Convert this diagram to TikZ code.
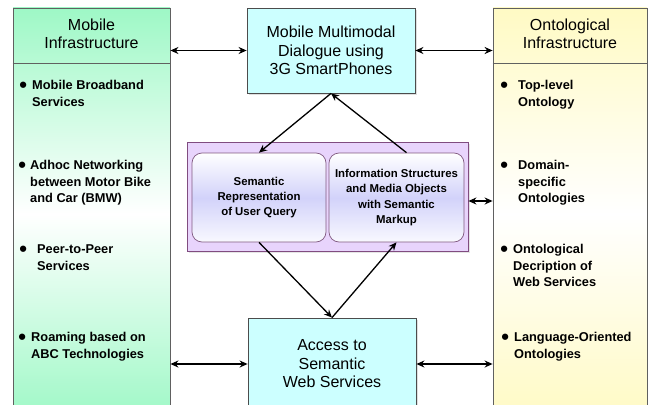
\documentclass[tikz,border=0pt]{standalone}
\usepackage{fontspec}
\setmainfont{Liberation Sans}
\usetikzlibrary{arrows.meta,shadows}

\definecolor{mintgreen}{RGB}{158,248,198}
\definecolor{paleyellow}{RGB}{255,250,196}
\definecolor{lightcyan}{RGB}{204,255,255}
\definecolor{lilac}{RGB}{232,212,252}
\definecolor{lavblue}{RGB}{210,210,250}

\newcommand{\hdfont}{\fontsize{16}{18.5}\selectfont}
\newcommand{\itfont}{\fontsize{12.8}{16.6}\selectfont\bfseries}
\newcommand{\inbfont}{\fontsize{11.4}{15.2}\selectfont\bfseries}
\newcommand{\bigdot}{\raisebox{-3.2pt}{\fontsize{22}{22}\selectfont\textbullet}}
\newcommand{\blt}[2][5.15pt]{\begin{tabular}{@{}l@{\hspace{#1}}l@{}}\bigdot&#2\end{tabular}}

\tikzset{
  panel/.style 2 args={draw=gray!75!black, line width=0.8pt, inner sep=0pt,
    minimum width=#1, minimum height=412pt, top color=#2, bottom color=#2, middle color=white},
  hub/.style={draw=gray!60!black, line width=0.8pt, fill=lightcyan, inner sep=0pt,
    align=center, font=\hdfont, drop shadow={shadow xshift=2pt, shadow yshift=-2pt, fill=gray!50}},
  rbox/.style={draw=gray!70!violet, line width=0.7pt, rounded corners=10pt, inner sep=0pt,
    align=center, font=\inbfont, top color=white, bottom color=white!85!lavblue, middle color=lavblue,
    minimum height=89pt},
  item/.style={anchor=west, inner sep=0pt, font=\itfont},
  head/.style={align=center, font=\hdfont},
  link/.style={-{Stealth[length=8pt,width=7pt]}, line width=1.3pt},
  both/.style={{Stealth[length=8pt,width=7pt]}-{Stealth[length=8pt,width=7pt]}, line width=1.3pt}
}

\begin{document}
\begin{tikzpicture}[x=1pt, y=-1pt]
  \useasboundingbox (0,0) rectangle (650,404);

  % side panels
  \node[panel={157pt}{mintgreen}] (mobinf) at (91.5,214) {};
  \node[panel={154pt}{paleyellow}] (ontinf) at (570,214) {};
  \draw[gray!75!black, line width=0.8pt] (mobinf.west |- 0,63) -- (mobinf.east |- 0,63);
  \draw[gray!75!black, line width=0.8pt] (ontinf.west |- 0,63) -- (ontinf.east |- 0,63);
  \node[head] (mobhead) at (91.5,34) {Mobile\\Infrastructure};
  \node[head] (onthead) at (570,34) {Ontological\\Infrastructure};

  % bullet items
  \node[item] (broad) at (19.15,94.5) {\blt{Mobile Broadband\\&Services}};
  \node[item] (adhoc) at (18.15,183) {\blt[4.15pt]{Adhoc Networking\\&between Motor Bike\\&and Car (BMW)}};
  \node[item] (ptp) at (19.15,258.5) {\blt[10.15pt]{Peer-to-Peer\\&Services}};
  \node[item] (roam) at (18.15,346.5) {\blt{Roaming based on\\&ABC Technologies}};
  \node[item] (toplev) at (500.15,94.5) {\blt[10.15pt]{Top-level\\&Ontology}};
  \node[item] (domain) at (500.15,183) {\blt[10.15pt]{Domain-\\&specific\\&Ontologies}};
  \node[item] (ontdesc) at (500.15,267) {\blt{Ontological\\&Decription of\\&Web Services}};
  \node[item] (langor) at (501.15,346.5) {\blt{Language-Oriented\\&Ontologies}};

  % centre column
  \node[hub, minimum width=168pt, minimum height=85pt] (dialog) at (331,50.5)
    {Mobile Multimodal\\Dialogue using\\3G SmartPhones};
  \node[hub, minimum width=168pt, minimum height=92pt] (access) at (332,364)
    {Access to\\Semantic\\Web Services};
  \node[draw=gray!60!violet, line width=0.8pt, fill=lilac, minimum width=281pt, minimum height=109pt,
    inner sep=0pt, drop shadow={shadow xshift=2pt, shadow yshift=-2pt, fill=gray!40}] (semframe) at (327.5,196.5) {};
  \node[rbox, minimum width=134pt] (query) at (259,197.5)
    {Semantic\\Representation\\of User Query};
  \node[rbox, minimum width=135pt] (info) at (396.5,197.5)
    {Information Structures\\and Media Objects\\with Semantic\\Markup};

  % connectors
  \draw[both] (mobinf.east |- dialog.west) -- (dialog.west);
  \draw[both] (dialog.east) -- (ontinf.west |- dialog.east);
  \draw[both] (mobinf.east |- access.west) -- (access.west);
  \draw[both] (access.east) -- (ontinf.west |- access.east);
  \draw[both] ([yshift=-4.5pt]semframe.east) -- ([yshift=-4.5pt]ontinf.west |- semframe.east);
  \draw[link] (dialog.south) -- (query.north);
  \draw[link] ([xshift=10pt]info.north) -- (dialog.south);
  \draw[link] (query.south) -- (access.north);
  \draw[link] (access.north) -- (info.south);
\end{tikzpicture}
\end{document}
